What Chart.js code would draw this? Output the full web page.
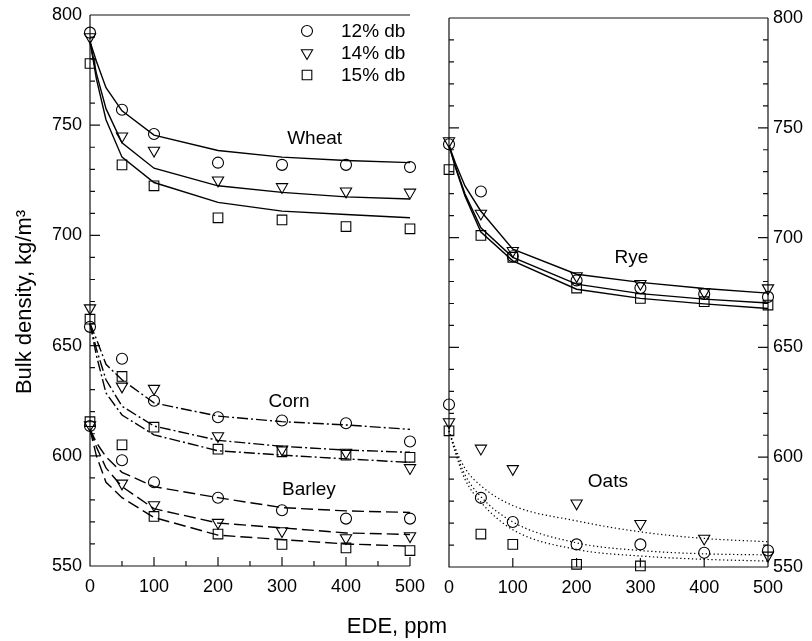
<!DOCTYPE html>
<html>
<head>
<meta charset="utf-8">
<script src="https://cdn.jsdelivr.net/npm/chart.js@4.4.1/dist/chart.umd.min.js"></script>
<style>
  body { margin: 0; background: #fff; }
  #wrap { position: relative; width: 812px; height: 641px; }
  canvas { position: absolute; top: 0; }
  #leftChart { left: 0; }
  #rightChart { left: 420px; }
  #xTitle { position: absolute; left: 0; width: 794px; top: 613px; line-height: 22px; text-align: center;
            font: 22px "Liberation Sans", Arial, sans-serif; color: #000; }
</style>
</head>
<body>
<div id="wrap">
  <canvas id="leftChart" width="445" height="641"></canvas>
  <canvas id="rightChart" width="392" height="641"></canvas>
  <div id="xTitle">EDE, ppm</div>
</div>
<script>
"use strict";

// 1: data  (EDE dose in ppm, bulk density in kg/m3)
const edeLevels = [0, 50, 100, 200, 300, 400, 500];
const fitLevels = [0, 10, 25, 50, 100, 200, 300, 400, 500];
const moistureLabels = ['12% db', '14% db', '15% db'];

// measured points
const wheat12 = [792, 757, 746, 733, 732, 732, 731];
const wheat14 = [790, 745, 738.5, 725, 722, 720, 719.5];
const wheat15 = [778, 732, 722.5, 708, 707, 704, 703];
const corn12 = [658.5, 644, 625, 617.5, 616, 614.8, 606.5];
const corn14 = [667, 631.5, 630.5, 609, 603, 601.5, 594.5];
const corn15 = [662, 636, 613, 603, 601.8, 600.3, 599.3];
const barley12 = [613.5, 598, 588, 581, 575.3, 571.5, 571.5];
const barley14 = [614, 587.5, 577.7, 569.7, 565.9, 562.7, 563.6];
const barley15 = [615.5, 605, 572.5, 564.5, 559.8, 558.2, 557];
const rye12 = [742.5, 721, 691.5, 680.5, 677, 674.3, 673];
const rye14 = [744, 711, 694, 682.5, 679, 675.2, 677];
const rye15 = [731, 701, 691, 677, 672.3, 670.8, 669.3];
const oats12 = [624, 581.5, 570.5, 560.3, 560.3, 556.5, 557.5];
const oats14 = [616, 604, 594.7, 579, 569.7, 563, 555.3];
const oats15 = [612, 565, 560.3, 551.2, 550.5, null, null];

// fitted curves
const wheatFit12 = [788, 779, 767, 756.5, 745.5, 738.5, 735.5, 734, 733];
const wheatFit14 = [788, 773.5, 757.5, 742, 730.5, 722.5, 719.5, 717.5, 716.5];
const wheatFit15 = [788, 771, 752.5, 735.5, 724, 715, 711, 709.5, 708];
const cornFit12 = [660, 653, 641.5, 634.5, 624, 618, 615.5, 614, 612];
const cornFit14 = [660, 648.5, 634.5, 622.5, 613.5, 607, 604.3, 602.6, 601.6];
const cornFit15 = [660, 645.5, 628.5, 618.5, 609.5, 602.3, 600.3, 598.6, 597];
const barleyFit12 = [612, 606, 599.5, 592.5, 586, 581, 576.5, 575, 574.3];
const barleyFit14 = [612, 604, 594.5, 586, 576, 569.5, 567.3, 565, 564.3];
const barleyFit15 = [612, 600, 588, 581, 572, 564, 562, 560, 559];
const ryeFit12 = [742, 734, 723.5, 712, 694.7, 683.3, 679.6, 676.8, 674.7];
const ryeFit14 = [742, 732.5, 720, 704.5, 691, 678.8, 674.5, 672, 670.2];
const ryeFit15 = [742, 732, 719, 702.5, 689.4, 676.5, 672.3, 669.8, 667.7];
const oatsFit12 = [612, 604, 595, 587, 578, 571, 566, 563, 561.5];
const oatsFit14 = [612, 603, 592, 582, 570.5, 561, 557.5, 556, 555.5];
const oatsFit15 = [612, 602, 590, 579.5, 567, 558, 555, 553.5, 552.7];

// 2: helpers
const FONT = '"Liberation Sans", Arial, Helvetica, sans-serif';
const markerStyles = [
  { pointStyle: 'circle', radius: 5.5, rotation: 0 },
  { pointStyle: 'triangle', radius: 6.5, rotation: 180 },
  { pointStyle: 'rect', radius: 6.8, rotation: 0 }
];
const DASH_CORN = [11, 3, 2, 3];
const DASH_BARLEY = [12, 5];
const DASH_OATS = [1.3, 2.6];

function toPoints(xs, ys) {
  return xs.map((x, i) => ({ x: x, y: ys[i] }));
}

function markerSet(values, k) {
  const m = markerStyles[k];
  return {
    data: toPoints(edeLevels, values),
    showLine: false,
    pointStyle: m.pointStyle,
    pointRadius: m.radius,
    pointRotation: m.rotation,
    pointBorderWidth: 1.1,
    pointBorderColor: '#000',
    pointBackgroundColor: 'rgba(0,0,0,0)',
    clip: false
  };
}

function fitSet(values, dash, smooth) {
  return {
    data: toPoints(fitLevels, values),
    showLine: true,
    pointRadius: 0,
    borderColor: '#000',
    borderWidth: dash === DASH_OATS ? 1.2 : 1.4,
    borderDash: dash || [],
    cubicInterpolationMode: smooth ? 'monotone' : 'default',
    tension: 0,
    clip: false
  };
}

// frame, inward ticks, legend, crop names and y title
const framePlugin = {
  id: 'frame',
  beforeDatasetsDraw(chart, args, opts) {
    const { ctx, chartArea: a } = chart;
    const xs = chart.scales.x, ys = chart.scales.y;
    ctx.save();
    ctx.strokeStyle = '#111';
    ctx.lineWidth = 1.2;
    ctx.beginPath();
    ctx.moveTo(a.left, a.top); ctx.lineTo(a.right, a.top);
    ctx.moveTo(a.left, a.top); ctx.lineTo(a.left, a.bottom);
    ctx.lineTo(a.right, a.bottom);
    if (opts.rightBorder) { ctx.moveTo(a.right, a.top); ctx.lineTo(a.right, a.bottom); }
    ys.ticks.forEach(t => {
      const py = ys.getPixelForValue(t.value);
      const len = t.value % 50 === 0 ? 10 : 5;
      if (opts.leftTicks) { ctx.moveTo(a.left, py); ctx.lineTo(a.left + len, py); }
      if (opts.rightTicks) { ctx.moveTo(a.right, py); ctx.lineTo(a.right - len, py); }
    });
    xs.ticks.forEach(t => {
      const px = xs.getPixelForValue(t.value);
      const len = t.value % 100 === 0 ? 9 : 5;
      ctx.moveTo(px, a.bottom); ctx.lineTo(px, a.bottom - len);
    });
    ctx.stroke();
    ctx.restore();
  },
  afterDatasetsDraw(chart, args, opts) {
    const { ctx } = chart;
    const xs = chart.scales.x, ys = chart.scales.y;
    ctx.save();
    ctx.fillStyle = '#000';
    ctx.textBaseline = 'middle';
    ctx.textAlign = 'center';
    ctx.font = '19px ' + FONT;
    (opts.names || []).forEach(n => {
      ctx.fillText(n.text, xs.getPixelForValue(n.x), ys.getPixelForValue(n.y));
    });
    if (opts.legend) {
      const lg = opts.legend;
      moistureLabels.forEach((label, i) => {
        const m = markerStyles[i];
        const yy = lg.y + i * lg.step;
        ctx.strokeStyle = '#000';
        ctx.fillStyle = 'rgba(0,0,0,0)';
        ctx.lineWidth = 1.1;
        Chart.helpers.drawPoint(ctx, {
          pointStyle: m.pointStyle, radius: m.radius, rotation: m.rotation, borderWidth: 1.1
        }, lg.x, yy);
        ctx.fillStyle = '#000';
        ctx.textAlign = 'left';
        ctx.fillText(label, lg.x + 34, yy + 1);
      });
    }
    if (opts.yTitle) {
      ctx.save();
      ctx.translate(opts.yTitle.x, opts.yTitle.y);
      ctx.rotate(-Math.PI / 2);
      ctx.textAlign = 'center';
      ctx.font = '22px ' + FONT;
      ctx.fillText(opts.yTitle.text, 0, 0);
      ctx.restore();
    }
    ctx.restore();
  }
};

function fitAxis(w, h) {
  return function (scale) {
    if (w !== undefined) scale.width = w;
    if (h !== undefined) scale.height = h;
    scale.paddingLeft = 0; scale.paddingRight = 0;
    scale.paddingTop = 0; scale.paddingBottom = 0;
  };
}

function makeChart(id, datasets, cfg) {
  return new Chart(document.getElementById(id), {
    type: 'scatter',
    data: { datasets: datasets },
    plugins: [framePlugin],
    options: {
      responsive: false,
      animation: false,
      devicePixelRatio: 1,
      layout: { padding: cfg.padding },
      plugins: {
        legend: { display: false },
        tooltip: { enabled: false },
        frame: cfg.frame
      },
      scales: {
        x: {
          type: 'linear', min: 0, max: 500,
          grid: { display: false, drawTicks: false },
          border: { display: false },
          afterFit: fitAxis(undefined, cfg.xHeight),
          ticks: {
            stepSize: cfg.xStep, autoSkip: false, maxRotation: 0, padding: 10,
            color: '#000', font: { family: FONT, size: 18 },
            callback: v => (v % 100 === 0 ? v : '')
          }
        },
        y: {
          type: 'linear', min: 550, max: 800, position: cfg.yPosition,
          grid: { display: false, drawTicks: false },
          border: { display: false },
          afterFit: fitAxis(cfg.yWidth, undefined),
          ticks: {
            stepSize: 10, autoSkip: false, padding: cfg.yPad,
            color: '#000', font: { family: FONT, size: 18 },
            callback: v => (v % 50 === 0 ? v : '')
          }
        }
      }
    }
  });
}

// 3: left panel (wheat, corn, barley)
makeChart('leftChart', [
  fitSet(wheatFit12), fitSet(wheatFit14), fitSet(wheatFit15),
  fitSet(cornFit12, DASH_CORN), fitSet(cornFit14, DASH_CORN), fitSet(cornFit15, DASH_CORN),
  fitSet(barleyFit12, DASH_BARLEY), fitSet(barleyFit14, DASH_BARLEY), fitSet(barleyFit15, DASH_BARLEY),
  markerSet(wheat12, 0), markerSet(wheat14, 1), markerSet(wheat15, 2),
  markerSet(corn12, 0), markerSet(corn14, 1), markerSet(corn15, 2),
  markerSet(barley12, 0), markerSet(barley14, 1), markerSet(barley15, 2)
], {
  padding: { left: 0, top: 15, right: 35, bottom: 0 },
  xHeight: 75, xStep: 50,
  yWidth: 90, yPad: 8, yPosition: 'left',
  frame: {
    rightBorder: false, leftTicks: true, rightTicks: false,
    legend: { x: 307, y: 31, step: 22 },
    yTitle: { text: 'Bulk density, kg/m³', x: 25, y: 302 },
    names: [
      { text: 'Wheat', x: 351, y: 744 },
      { text: 'Corn', x: 311, y: 624.3 },
      { text: 'Barley', x: 342, y: 584.7 }
    ]
  }
});

// 4: right panel (rye, oats)
makeChart('rightChart', [
  fitSet(ryeFit12), fitSet(ryeFit14), fitSet(ryeFit15),
  fitSet(oatsFit12, DASH_OATS, true), fitSet(oatsFit14, DASH_OATS, true), fitSet(oatsFit15, DASH_OATS, true),
  markerSet(rye12, 0), markerSet(rye14, 1), markerSet(rye15, 2),
  markerSet(oats12, 0), markerSet(oats14, 1), markerSet(oats15, 2)
], {
  padding: { left: 29, top: 18, right: 0, bottom: 0 },
  xHeight: 74, xStep: 100,
  yWidth: 44, yPad: 5, yPosition: 'right',
  frame: {
    rightBorder: true, leftTicks: true, rightTicks: true,
    names: [
      { text: 'Rye', x: 286, y: 690.6 },
      { text: 'Oats', x: 249, y: 588.8 }
    ]
  }
});
</script>
</body>
</html>
